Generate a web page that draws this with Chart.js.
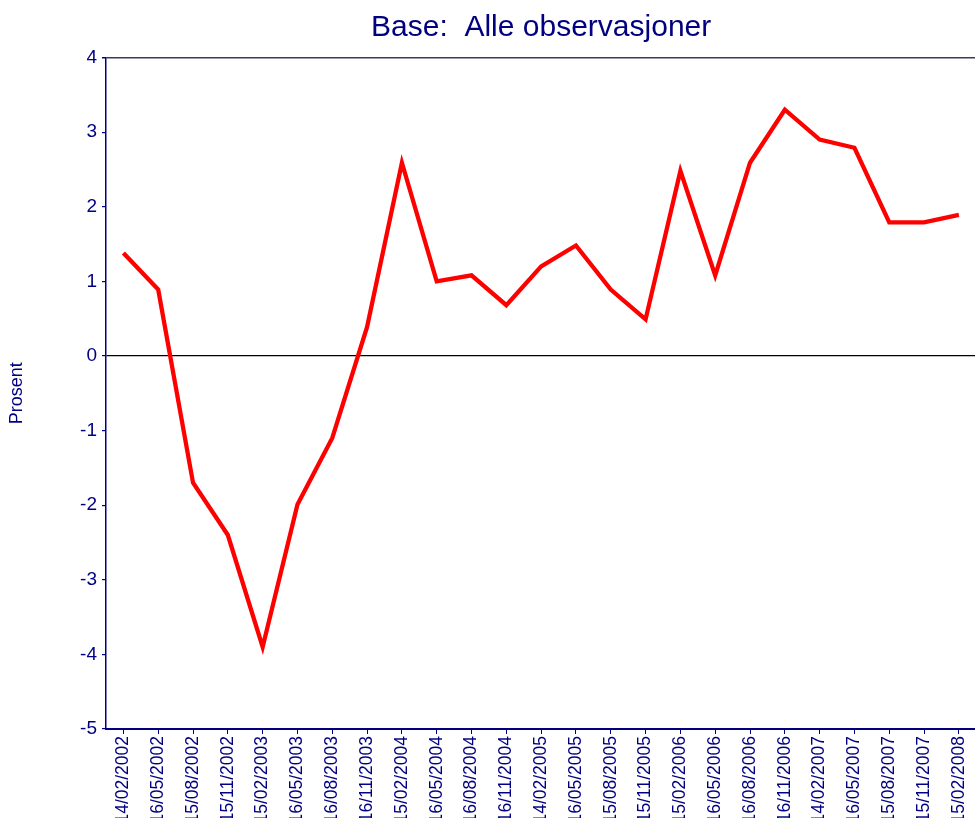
<!DOCTYPE html>
<html>
<head>
<meta charset="utf-8">
<script src="https://cdn.jsdelivr.net/npm/chart.js@4.4.1/dist/chart.umd.min.js"></script>
<style>
  html, body { margin: 0; padding: 0; background: #ffffff; overflow: hidden; }
  #wrap { position: relative; width: 982px; height: 818px; }
</style>
</head>
<body>
<div id="wrap"><canvas id="c"></canvas></div>
<script>
const categories = [
  "14/02/2002","16/05/2002","15/08/2002","15/11/2002","15/02/2003","16/05/2003",
  "16/08/2003","16/11/2003","15/02/2004","16/05/2004","16/08/2004","16/11/2004",
  "14/02/2005","16/05/2005","15/08/2005","15/11/2005","15/02/2006","16/05/2006",
  "16/08/2006","16/11/2006","14/02/2007","16/05/2007","15/08/2007","15/11/2007",
  "15/02/2008"
];
const seriesValues = [
  1.38, 0.89, -1.70, -2.40, -3.90, -1.99, -1.10, 0.39, 2.59, 1.00, 1.08, 0.68,
  1.20, 1.48, 0.89, 0.49, 2.48, 1.08, 2.59, 3.30, 2.90, 2.79, 1.79, 1.79, 1.89
];
const titleText = "Base:  Alle observasjoner";
const yTitle = "Prosent";
const yMin = -5, yMax = 4, yStep = 1;

const NAVY = '#000080';
const FONT = "'Liberation Sans', Arial, sans-serif";

new Chart(document.getElementById('c'), {
  type: 'line',
  data: {
    labels: categories,
    datasets: [{
      data: seriesValues,
      borderColor: '#ff0000',
      borderWidth: 4.3,
      pointRadius: 0,
      tension: 0,
      fill: false
    }]
  },
  options: {
    responsive: true,
    maintainAspectRatio: false,
    animation: false,
    layout: { padding: { left: 0, right: 0, top: 0, bottom: 0 } },
    plugins: {
      legend: { display: false },
      tooltip: { enabled: false },
      title: {
        display: true,
        text: titleText,
        fullSize: false,
        color: NAVY,
        font: { family: FONT, size: 30, weight: 'normal' },
        padding: { top: 10, bottom: 11.5 }
      }
    },
    scales: {
      x: {
        type: 'category',
        offset: true,
        border: { display: true, color: NAVY, width: 2 },
        grid: { display: true, drawOnChartArea: false, drawTicks: true, tickLength: 5, tickColor: NAVY, offset: false },
        ticks: {
          color: NAVY,
          font: { family: FONT, size: 17.5 },
          minRotation: 90, maxRotation: 90,
          autoSkip: false,
          padding: 2
        },
        afterFit: (s) => { s.height = 89; }
      },
      y: {
        min: yMin, max: yMax,
        border: { display: true, color: NAVY, width: 1.5 },
        grid: {
          drawTicks: true,
          tickLength: 4,
          tickColor: NAVY,
          color: (ctx) => ctx.tick && ctx.tick.value === 0 ? '#000000' : (ctx.tick && ctx.tick.value === yMax ? '#3a3a5a' : 'rgba(0,0,0,0)'),
          lineWidth: (ctx) => ctx.tick && ctx.tick.value === yMax ? 1.5 : 1.2
        },
        ticks: {
          stepSize: yStep,
          color: NAVY,
          font: { family: FONT, size: 19 },
          padding: 5
        },
        title: {
          display: true,
          text: yTitle,
          color: NAVY,
          font: { family: FONT, size: 18 },
          padding: { top: 6, bottom: 0 }
        },
        afterFit: (s) => { s.width = 106; }
      }
    }
  }
});
</script>
</body>
</html>
